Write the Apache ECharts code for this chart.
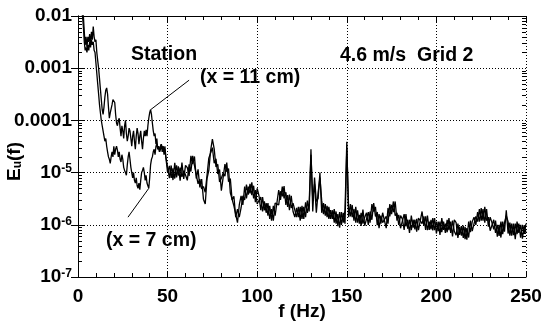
<!DOCTYPE html>
<html>
<head>
<meta charset="utf-8">
<script src="https://cdn.jsdelivr.net/npm/echarts@6/dist/echarts.min.js"></script>
<style>
  html, body { margin: 0; padding: 0; background: #fff; }
  #chart { width: 543px; height: 326px; }
</style>
</head>
<body>
<div id="chart"></div>
<script>
// Streamwise velocity spectra E_u(f), 4.6 m/s, grid 2, two stations.

// Low band: 0.5 Hz bins from 0.5 to 50 Hz
const lowBinHz = 0.5;
const x11Low = [
  3e-2, 2.5e-2, 2e-2, 1.6e-2, 1.3e-2, 1e-2, 5e-3, 2.8e-3, 4e-3, 2.5e-3,
  4e-3, 3.2e-3, 4.5e-3, 2.8e-3, 5e-3, 3.5e-3, 6.3e-3, 4e-3, 3.2e-3, 3.5e-3,
  2e-3, 1.4e-3, 1e-3, 6.3e-4, 4e-4, 2.5e-4, 1.6e-4, 1.3e-4, 1.8e-4, 2.8e-4,
  3.8e-4, 4.2e-4, 3.2e-4, 1.8e-4, 1.1e-4, 1.4e-4, 1.3e-4, 2e-4, 2.5e-4, 2.7e-4,
  2.2e-4, 1.3e-4, 8.9e-5, 7.9e-5, 1e-4, 1.1e-4, 7.1e-5, 5e-5, 7.9e-5, 6.3e-5,
  4.5e-5, 7.9e-5, 1e-4, 5.6e-5, 4e-5, 5e-5, 7.1e-5, 6.3e-5, 4.5e-5, 3.2e-5,
  5e-5, 6.3e-5, 4e-5, 2.8e-5, 5e-5, 7.1e-5, 5.6e-5, 3.5e-5, 5e-5, 6.3e-5,
  4e-5, 2.8e-5, 4.5e-5, 6.3e-5, 5e-5, 6.6e-5, 5e-5, 7.9e-5, 1.1e-4, 1.4e-4,
  1.6e-4, 1.3e-4, 8.9e-5, 6.3e-5, 5e-5, 5.6e-5, 3.5e-5, 4.5e-5, 2.8e-5, 3.2e-5,
  2.5e-5, 2.8e-5, 3.5e-5, 2.5e-5, 3.2e-5, 2.2e-5, 2.8e-5, 2e-5, 1.6e-5, 1.26e-5
];
const x7Low = [
  2.5e-2, 2e-2, 1.6e-2, 1.3e-2, 1e-2, 6.3e-3, 3.2e-3, 2.2e-3, 2.5e-3, 2e-3,
  2.8e-3, 2.2e-3, 3.2e-3, 2.5e-3, 3.5e-3, 2.8e-3, 3.2e-3, 2.2e-3, 2e-3, 1.26e-3,
  7.9e-4, 5e-4, 3.2e-4, 2e-4, 1.4e-4, 1e-4, 7.9e-5, 6.3e-5, 5e-5, 4e-5,
  4.5e-5, 3.2e-5, 2.5e-5, 2e-5, 1.8e-5, 1.5e-5, 2e-5, 2.5e-5, 2e-5, 3.2e-5,
  2.2e-5, 2.8e-5, 3.2e-5, 2.7e-5, 2e-5, 2.5e-5, 1.8e-5, 1.6e-5, 2.2e-5, 1.8e-5,
  1.26e-5, 1.1e-5, 1e-5, 8.9e-6, 1.4e-5, 2e-5, 2.5e-5, 1.8e-5, 1.26e-5, 1e-5,
  7.9e-6, 1e-5, 7.1e-6, 6.3e-6, 7.9e-6, 5.6e-6, 5e-6, 6.3e-6, 4.7e-6, 7.1e-6,
  1e-5, 1.1e-5, 1.26e-5, 1e-5, 7.1e-6, 8.9e-6, 6.3e-6, 5.6e-6, 5e-6, 7.9e-6,
  1.4e-5, 1.8e-5, 2e-5, 2.5e-5, 2.8e-5, 2.2e-5, 3.2e-5, 3.5e-5, 2.8e-5, 3.2e-5,
  2.5e-5, 3.2e-5, 3.5e-5, 2.8e-5, 3.2e-5, 2.5e-5, 3.2e-5, 2e-5, 1.4e-5, 1e-5
];

// High band: 1 Hz bins from 51 to 250 Hz
const highStartHz = 51;
const highBinHz = 1;
const x7High = [
  1.35e-5, 7.9e-6, 1.2e-5, 7.7e-6, 1.38e-5, 8.8e-6, 1.25e-5, 8.3e-6, 1.09e-5, 9e-6,
  7.1e-6, 1.44e-5, 1.05e-5, 2.1e-5, 1.36e-5, 1.38e-5, 6.1e-6, 7.5e-6, 4.9e-6, 5.4e-6,
  4.2e-6, 3.9e-6, 1.89e-5, 1.76e-5, 3e-5, 1.51e-5, 1.84e-5, 9.4e-6, 1.15e-5, 4.5e-6,
  4.9e-6, 1.45e-5, 1.04e-5, 1.19e-5, 4.1e-6, 4.4e-6, 2.3e-6, 2.4e-6, 1.1e-6, 2.4e-6,
  3.6e-6, 2.4e-6, 5.4e-6, 3.2e-6, 5.4e-6, 4e-6, 6.5e-6, 3.2e-6, 4.6e-6, 2.5e-6,
  2.4e-6, 3.4e-6, 1.8e-6, 2.8e-6, 1.7e-6, 2.6e-6, 1.3e-6, 2e-6, 1.2e-6, 2.6e-6,
  2.8e-6, 2.4e-6, 4.4e-6, 3.5e-6, 5.5e-6, 2.4e-6, 3.7e-6, 1.9e-6, 3.6e-6, 1.8e-6,
  1.4e-6, 2.1e-6, 1.4e-6, 2.2e-6, 1.3e-6, 2.2e-6, 1.4e-6, 2.9e-6, 1.8e-6, 2.8e-5,
  1.8e-6, 8e-6, 2.8e-6, 3.2e-6, 1e-5, 1.7e-6, 2.6e-6, 1.5e-6, 2.3e-6, 1.3e-6,
  1.9e-6, 1.3e-6, 2e-6, 1.05e-6, 1.6e-6, 8.8e-7, 1.75e-6, 1.1e-6, 1.9e-6, 3.9e-5,
  1.4e-6, 2.5e-6, 1.4e-6, 2e-6, 1.1e-6, 1.9e-6, 1.05e-6, 1.7e-6, 1.05e-6, 1.4e-6,
  1.7e-6, 1e-6, 1.8e-6, 1.25e-6, 2.6e-6, 1.45e-6, 1.75e-6, 8.6e-7, 1.5e-6, 1.1e-6,
  1.05e-6, 1.45e-6, 1.05e-6, 2.5e-6, 1.6e-6, 2.8e-6, 1.5e-6, 1.7e-6, 1e-6, 1.5e-6,
  1.3e-6, 8e-7, 1.6e-6, 8.4e-7, 1.25e-6, 7.9e-7, 1.25e-6, 8.2e-7, 1.3e-6, 7.9e-7,
  7.4e-7, 1.8e-6, 9.6e-7, 1.45e-6, 7.9e-7, 1.15e-6, 8.2e-7, 1.35e-6, 7.9e-7, 1.15e-6,
  7.6e-7, 1.15e-6, 7.2e-7, 1.15e-6, 7e-7, 1.25e-6, 7.9e-7, 1.15e-6, 6e-7, 1.25e-6,
  1.1e-6, 5.6e-7, 9.2e-7, 6.2e-7, 9.7e-7, 5.3e-7, 8.6e-7, 5.7e-7, 1.2e-6, 7.6e-7,
  7.6e-7, 1.45e-6, 1.15e-6, 2e-6, 1.2e-6, 2e-6, 1.1e-6, 2e-6, 9.2e-7, 1.4e-6,
  1.1e-6, 8.2e-7, 1.2e-6, 5.9e-7, 1e-6, 5.7e-7, 1.15e-6, 7.4e-7, 1.9e-6, 6.8e-7,
  1.1e-6, 6.2e-7, 1.05e-6, 5.3e-7, 1.15e-6, 7e-7, 1e-6, 5.4e-7, 9.8e-7, 7e-7
];
const x11High = [
  7.8e-6, 1.37e-5, 7.2e-6, 1.54e-5, 8.1e-6, 1.32e-5, 7e-6, 1.55e-5, 7.6e-6, 1.38e-5,
  1.24e-5, 8.6e-6, 2.1e-5, 1.45e-5, 2.04e-5, 7.7e-6, 1.15e-5, 5.2e-6, 7.5e-6, 3.1e-6,
  2.5e-6, 7.7e-6, 1.1e-5, 2.64e-5, 4.4e-5, 2.84e-5, 1.28e-5, 1.44e-5, 6.6e-6, 7.8e-6,
  9.8e-6, 8.5e-6, 1.56e-5, 6.7e-6, 7.7e-6, 3e-6, 3.5e-6, 1.4e-6, 2e-6, 1.4e-6,
  2.1e-6, 3.6e-6, 3e-6, 5.9e-6, 3.8e-6, 6.1e-6, 3.7e-6, 5.6e-6, 2.7e-6, 5e-6,
  3.6e-6, 1.9e-6, 3.4e-6, 1.9e-6, 2.6e-6, 1.5e-6, 2.3e-6, 1.2e-6, 2.3e-6, 1.5e-6,
  1.5e-6, 4.6e-6, 3e-6, 5.4e-6, 3.2e-6, 4.2e-6, 2.2e-6, 3.8e-6, 2.1e-6, 2.6e-6,
  2.6e-6, 1.4e-6, 2.2e-6, 1.2e-6, 2.3e-6, 1.3e-6, 2.7e-6, 1.7e-6, 2.6e-6, 2.2e-5,
  3.1e-6, 6e-6, 1.7e-6, 4.2e-6, 8e-6, 2.9e-6, 1.6e-6, 2.5e-6, 1.4e-6, 2.2e-6,
  1.3e-6, 1.9e-6, 1.1e-6, 1.8e-6, 9.4e-7, 1.75e-6, 1e-6, 1.7e-6, 1.05e-6, 3e-5,
  2.2e-6, 1.45e-6, 2.4e-6, 1.2e-6, 2.2e-6, 1.1e-6, 1.55e-6, 9.5e-7, 1.95e-6, 9.6e-7,
  9.8e-7, 1.75e-6, 1.1e-6, 2.5e-6, 1.8e-6, 2.2e-6, 9.8e-7, 1.6e-6, 1.05e-6, 1.7e-6,
  1.8e-6, 8.6e-7, 2.1e-6, 1.45e-6, 2.4e-6, 1.75e-6, 2.8e-6, 1.2e-6, 1.55e-6, 8.6e-7,
  7.9e-7, 1.6e-6, 9.4e-7, 1.25e-6, 7e-7, 1.5e-6, 8.8e-7, 1.25e-6, 7.4e-7, 1.35e-6,
  1.45e-6, 1.05e-6, 1.45e-6, 8e-7, 1.5e-6, 8e-7, 1.25e-6, 7.8e-7, 1.35e-6, 6.8e-7,
  1.15e-6, 6.4e-7, 1.35e-6, 8e-7, 1.05e-6, 7.2e-7, 1.35e-6, 7e-7, 1.2e-6, 7.5e-7,
  6.3e-7, 1.05e-6, 6.4e-7, 9.4e-7, 5.6e-7, 9.1e-7, 5.2e-7, 1.15e-6, 7.2e-7, 1.15e-6,
  1.4e-6, 1e-6, 1.75e-6, 1.15e-6, 2.1e-6, 1.2e-6, 2.2e-6, 1.2e-6, 1.4e-6, 7.7e-7,
  7.6e-7, 1.25e-6, 7e-7, 1e-6, 6.1e-7, 1.15e-6, 6.6e-7, 1.1e-6, 1.5e-6, 1.15e-6,
  6.2e-7, 1.05e-6, 6.3e-7, 1.05e-6, 6.6e-7, 1.05e-6, 5.7e-7, 1e-6, 6.8e-7, 1.05e-6
];

// Axis ticks and labels
const xMin = 0, xMax = 250, xStep = 50;
const yDecades = [1e-7, 1e-6, 1e-5, 1e-4, 1e-3, 1e-2];
const yDecadeLabels = ['10{sup|-7}', '10{sup|-6}', '10{sup|-5}', '0.0001', '0.001', '0.01'];

const FONT = '"Liberation Sans", Arial, Helvetica, sans-serif';
const INK = '#000';

function toPairs(low, high) {
  const pts = [];
  low.forEach((v, i) => pts.push([lowBinHz * (i + 1), v]));
  high.forEach((v, i) => pts.push([highStartHz + highBinHz * i, v]));
  return pts;
}

// 2..9 x 10^n positions for the log minor ticks
const logMinorTicks = [];
for (let e = -7; e < -2; e++) {
  for (let k = 2; k <= 9; k++) logMinorTicks.push([xMin, k * Math.pow(10, e)]);
}

function decadeLabel(value) {
  let best = 0, bestErr = Infinity;
  yDecades.forEach((d, i) => {
    const err = Math.abs(Math.log10(value) - Math.log10(d));
    if (err < bestErr) { bestErr = err; best = i; }
  });
  return yDecadeLabels[best];
}

const tickStyle = { color: INK, width: 1 };
const gridDots = { color: INK, width: 1, type: [1, 2] };

const chart = echarts.init(document.getElementById('chart'), null, { renderer: 'canvas' });

chart.setOption({
  animation: false,
  backgroundColor: '#fff',
  grid: { left: 78, top: 16, width: 448, height: 261, containLabel: false, outerBoundsMode: 'none' },
  xAxis: [
    {
      type: 'value', min: xMin, max: xMax, interval: xStep, position: 'bottom',
      axisLine: { show: true, lineStyle: tickStyle },
      axisTick: { show: true, inside: true, length: 6, lineStyle: tickStyle },
      minorTick: { show: true, splitNumber: 5, length: 4, lineStyle: tickStyle },
      splitLine: { show: true, lineStyle: gridDots },
      axisLabel: { color: INK, fontFamily: FONT, fontSize: 19, fontWeight: 'bold', margin: 10 },
      name: 'f (Hz)', nameLocation: 'middle', nameGap: 25, nameMoveOverlap: false,
      nameTextStyle: { color: INK, fontFamily: FONT, fontSize: 19, fontWeight: 'bold' }
    },
    {
      type: 'value', min: xMin, max: xMax, interval: xStep, position: 'top',
      axisLine: { show: true, lineStyle: tickStyle },
      axisTick: { show: true, inside: true, length: 6, lineStyle: tickStyle },
      minorTick: { show: true, splitNumber: 5, length: 4, lineStyle: tickStyle },
      splitLine: { show: false },
      axisLabel: { show: false }
    }
  ],
  yAxis: [
    {
      type: 'log', logBase: 10, min: 1e-7, max: 1e-2, position: 'left',
      axisLine: { show: true, lineStyle: tickStyle },
      axisTick: { show: true, inside: true, length: 7, lineStyle: tickStyle },
      splitLine: { show: true, lineStyle: gridDots },
      axisLabel: {
        color: INK, fontFamily: FONT, fontSize: 19, fontWeight: 'bold', margin: 6,
        formatter: decadeLabel,
        rich: {
          sup: { fontFamily: FONT, fontSize: 12, fontWeight: 'bold', color: INK,
                 verticalAlign: 'top', lineHeight: 14 }
        }
      },
      name: 'E{sub|u}(f)', nameLocation: 'middle', nameGap: 54, nameRotate: 90,
      nameMoveOverlap: false,
      nameTextStyle: {
        color: INK, fontFamily: FONT, fontSize: 19, fontWeight: 'bold',
        padding: [0, 30, 0, 0],
        rich: {
          sub: { fontFamily: FONT, fontSize: 12, fontWeight: 'bold', color: INK,
                 verticalAlign: 'bottom', lineHeight: 12 }
        }
      }
    },
    {
      type: 'log', logBase: 10, min: 1e-7, max: 1e-2, position: 'right',
      axisLine: { show: true, lineStyle: tickStyle },
      axisTick: { show: true, inside: true, length: 7, lineStyle: tickStyle },
      splitLine: { show: false },
      axisLabel: { show: false }
    }
  ],
  graphic: [
    { type: 'text', x: 131, y: 55, silent: true,
      style: { text: 'Station', fill: INK, font: 'bold 19.5px ' + FONT, verticalAlign: 'middle' } },
    { type: 'text', x: 340, y: 56, silent: true,
      style: { text: '4.6 m/s  Grid 2', fill: INK, font: 'bold 19.5px ' + FONT, verticalAlign: 'middle' } },
    { type: 'text', x: 200, y: 78, silent: true,
      style: { text: '(x = 11 cm)', fill: INK, font: 'bold 19.5px ' + FONT, verticalAlign: 'middle' } },
    { type: 'text', x: 106, y: 241, silent: true,
      style: { text: '(x = 7 cm)', fill: INK, font: 'bold 19.5px ' + FONT, verticalAlign: 'middle' } }
  ],
  series: [
    {
      name: 'x = 7 cm', type: 'line', xAxisIndex: 0, yAxisIndex: 0,
      data: toPairs(x7Low, x7High), showSymbol: false, symbol: 'none',
      lineStyle: { color: INK, width: 1.3 }, clip: true, silent: true,
      markLine: {
        silent: true, symbol: ['none', 'none'], label: { show: false },
        lineStyle: { color: INK, width: 1, type: 'solid' },
        data: [[{ coord: [39.5, 5e-6] }, { coord: [27.9, 1.4e-6] }]]
      }
    },
    {
      name: 'x = 11 cm', type: 'line', xAxisIndex: 0, yAxisIndex: 0,
      data: toPairs(x11Low, x11High), showSymbol: false, symbol: 'none',
      lineStyle: { color: INK, width: 1.3 }, clip: true, silent: true,
      markLine: {
        silent: true, symbol: ['none', 'none'], label: { show: false },
        lineStyle: { color: INK, width: 1, type: 'solid' },
        data: [[{ coord: [40.5, 1.6e-4] }, { coord: [62, 5.9e-4] }]]
      }
    },
    {
      // log-spaced minor ticks on the left and right frame edges
      type: 'custom', xAxisIndex: 0, yAxisIndex: 0, silent: true, clip: false,
      data: logMinorTicks, encode: { x: 0, y: 1 },
      renderItem: function (params, api) {
        const v = api.value(1);
        const l = api.coord([xMin, v]);
        const r = api.coord([xMax, v]);
        const y = Math.round(l[1]) + 0.5;
        return {
          type: 'group',
          children: [
            { type: 'line', shape: { x1: l[0], y1: y, x2: l[0] + 4, y2: y },
              style: { stroke: INK, lineWidth: 1 } },
            { type: 'line', shape: { x1: r[0] - 4, y1: y, x2: r[0], y2: y },
              style: { stroke: INK, lineWidth: 1 } }
          ]
        };
      }
    }
  ]
});
</script>
</body>
</html>
